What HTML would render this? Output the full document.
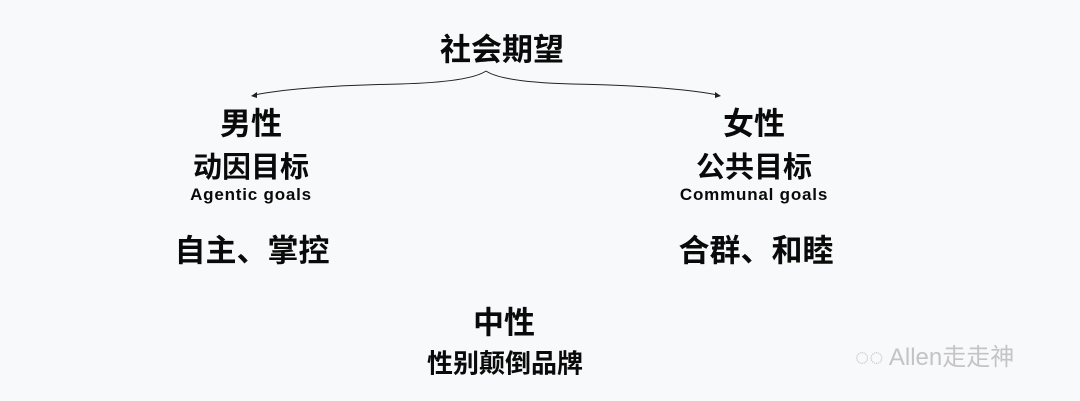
<!DOCTYPE html>
<html><head><meta charset="utf-8"><style>
body{margin:0;width:1080px;height:401px;background:#f8f9fa;position:relative;overflow:hidden;font-family:"Liberation Sans","Noto Sans CJK SC",sans-serif;color:#0a0a0a}
.t{position:absolute;transform:translate(-50%,-50%);white-space:nowrap;font-weight:bold}
</style></head><body>
<svg width="1080" height="401" style="position:absolute;left:0;top:0">
<path d="M486,71 Q470,82 400,84 Q300,86 254,95" fill="none" stroke="#222" stroke-width="1"/>
<path d="M486,71 Q502,82 572,84 Q672,86 718,95" fill="none" stroke="#222" stroke-width="1"/>
<polygon points="251,96 257,92 257,98" fill="#222"/>
<polygon points="721,96 715,92 715,98" fill="#222"/>
</svg>
<div class="t" style="left:502px;top:47px;font-size:31px">社会期望</div>
<div class="t" style="left:251px;top:121px;font-size:31px">男性</div>
<div class="t" style="left:251px;top:165px;font-size:29px">动因目标</div>
<div class="t" style="left:251px;top:195px;font-size:17px;letter-spacing:0.8px">Agentic goals</div>
<div class="t" style="left:252px;top:248px;font-size:31px">自主、掌控</div>
<div class="t" style="left:754px;top:121px;font-size:31px">女性</div>
<div class="t" style="left:754px;top:165px;font-size:29px">公共目标</div>
<div class="t" style="left:754px;top:195px;font-size:17px;letter-spacing:0.8px">Communal goals</div>
<div class="t" style="left:756px;top:248px;font-size:31px">合群、和睦</div>
<div class="t" style="left:504px;top:320px;font-size:31px">中性</div>
<div class="t" style="left:505px;top:362px;font-size:26px">性别颠倒品牌</div>
<div style="position:absolute;left:855px;top:337px;font-size:24px;color:#c4c4c4;white-space:nowrap">◌◌ Allen走走神</div>
</body></html>
